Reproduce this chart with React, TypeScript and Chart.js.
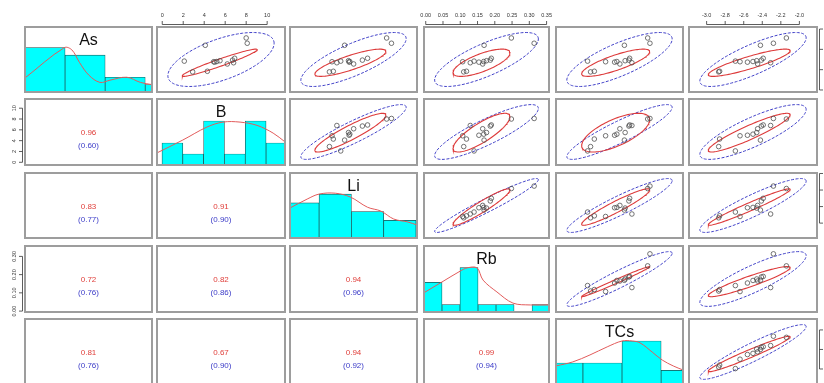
import React, { useEffect, useRef } from "react";
import { Chart, registerables } from "chart.js";

Chart.register(...registerables);

// ---------------- data ----------------
const varNames = ["As", "B", "Li", "Rb", "TCs", "V6"];

// 14 samples, one value per variable
const asVals = [25.6, 23.0, 22.0, 15.6, 14.7, 14.4, 13.7, 13.4, 13.9, 14.2, 12.8, 9.2, 8.9, 14.0];
const bVals = [8.0, 8.1, 4.1, 6.9, 6.7, 5.5, 5.0, 6.8, 4.9, 2.1, 6.2, 4.3, 2.9, 5.2];
const liVals = [30.9, 32.4, 17.9, 25.0, 23.4, 19.1, 19.3, 15.5, 14.0, 16.7, 20.7, 14.4, 13.2, 19.5];
const rbVals = [0.248, 0.314, 0.169, 0.19, 0.187, 0.176, 0.154, 0.129, 0.107, 0.14, 0.165, 0.118, 0.11, 0.168];
const tcsVals = [1.31, 1.34, 1.0, 1.07, 1.06, 1.01, 0.87, 1.1, 0.75, 0.51, 0.94, 0.6, 0.55, 0.9];
const v6Vals = [-2.14, -2.28, -2.42, -2.39, -2.41, -2.46, -2.56, -2.31, -2.64, -2.69, -2.45, -2.86, -2.87, -2.5];
const allVars = [asVals, bVals, liVals, rbVals, tcsVals, v6Vals];

// axis limits per variable
const axisMin = [-1, -0.5, 1, -0.005, 0.09, -3.19];
const axisMax = [31, 11.7, 40.3, 0.357, 1.78, -1.81];

// classical and robust location / scale
const classicalMean = [15, 5.6, 20.65, 0.176, 0.935, -2.5];
const classicalSd = [4.89, 1.864, 6.0, 0.0553, 0.258, 0.211];
const robustMean = [13.4, 5.48, 19.7, 0.1615, 0.884, -2.541];
const robustSd = [2.47, 1.316, 4.05, 0.0304, 0.1667, 0.1626];

// correlations (robust shown red, classical in parentheses blue)
const robustCorr = [
  [1, 0.96, 0.83, 0.72, 0.81, 0.88],
  [0.96, 1, 0.91, 0.82, 0.67, 0.92],
  [0.83, 0.91, 1, 0.94, 0.94, 0.97],
  [0.72, 0.82, 0.94, 1, 0.99, 0.93],
  [0.81, 0.67, 0.94, 0.99, 1, 0.97],
  [0.88, 0.92, 0.97, 0.93, 0.97, 1],
];
const classicalCorr = [
  [1, 0.6, 0.77, 0.76, 0.76, 0.8],
  [0.6, 1, 0.9, 0.86, 0.9, 0.82],
  [0.77, 0.9, 1, 0.96, 0.92, 0.9],
  [0.76, 0.86, 0.96, 1, 0.94, 0.85],
  [0.76, 0.9, 0.92, 0.94, 1, 0.93],
  [0.8, 0.82, 0.9, 0.85, 0.93, 1],
];

// tick labels
const topTicksB = [0, 2, 4, 6, 8, 10];
const topTicksRb = [0, 0.05, 0.1, 0.15, 0.2, 0.25, 0.3, 0.35];
const topTicksV6 = [-3.0, -2.8, -2.6, -2.4, -2.2, -2.0];
const leftTicksB = [0, 2, 4, 6, 8, 10];
const leftTicksRb = [0, 0.1, 0.2, 0.3];
const rightTicksAs = [0, 10, 20, 30];
const rightTicksLi = [10, 20, 30, 40];
const rightTicksTCs = [0.5, 1.0, 1.5];

// histograms (x in bin units, y in counts)
const histAs = [6, 5, 2, 1];
const histB = [2, 1, 4, 1, 4, 2];
const histLi = [4, 5, 3, 2];
const histRb = [4, 1, 6, 1, 1, 0, 1];
const histTCs = [3, 3, 6, 2];
const histCounts = [histAs, histB, histLi, histRb, histTCs];
const histXMin = [0, -0.24, 0.1, 0, 0.31];
const histXMax = [3.17, 5.91, 4.03, 6.94, 3.56];
const histYMax = [8.8, 6.0, 7.4, 8.9, 9.0];

const densAsX = [0, 0.98, 1.17, 1.36, 1.59, 1.87, 2.12, 2.54, 2.88, 3.17];
const densAsY = [1.9, 6.0, 5.7, 4.0, 2.3, 1.3, 1.6, 2.0, 1.3, 1.0];
const densBX = [-0.24, 1.0, 2.16, 2.93, 3.75, 4.57, 5.34, 5.91];
const densBY = [1.1, 2.27, 3.45, 3.9, 3.9, 3.6, 2.9, 2.1];
const densLiX = [0.09, 0.63, 1.0, 1.5, 1.97, 2.5, 2.91, 3.31, 3.75, 4.03];
const densLiY = [3.4, 4.43, 5.0, 5.1, 4.66, 3.5, 3.07, 2.16, 1.82, 1.48];
const densRbX = [0, 1.0, 2.0, 2.4, 2.94, 3.28, 4.05, 4.94, 5.9, 6.94];
const densRbY = [2.6, 4.05, 5.5, 5.95, 5.95, 4.3, 2.7, 1.2, 0.95, 0.95];
const densTCsX = [0.31, 0.74, 1.18, 1.62, 2.0, 2.26, 2.46, 2.77, 3.03, 3.31, 3.56];
const densTCsY = [2.6, 3.15, 4.1, 5.2, 6.0, 6.0, 5.75, 4.5, 3.4, 2.6, 2.05];
const densX = [densAsX, densBX, densLiX, densRbX, densTCsX];
const densY = [densAsY, densBY, densLiY, densRbY, densTCsY];

// ---------------- layout ----------------
const colLeft = [25, 157, 290, 424, 556, 689];
const colWidth = [127, 128, 127, 125, 127, 128];
const rowTop = [27, 99, 173, 246, 319];
const rowHeight = [65, 66, 65, 66, 66];
const NROWS = 5;
const NCOLS = 6;
const E = 8;
const FONT = '"Liberation Sans", Arial, Helvetica, sans-serif';
const TICK_FONT = 5.5;
const K975 = Math.sqrt(7.3778);

type AxisDef = { values: number[]; dec: number; pad: number };
const TOP_AXES: Record<number, AxisDef> = {
  1: { values: topTicksB, dec: 0, pad: 8.7 },
  3: { values: topTicksRb, dec: 2, pad: 8.7 },
  5: { values: topTicksV6, dec: 1, pad: 8.7 },
};
const LEFT_AXES: Record<number, AxisDef> = {
  1: { values: leftTicksB, dec: 0, pad: 7.9 },
  3: { values: leftTicksRb, dec: 2, pad: 5.6 },
};
const RIGHT_AXES: Record<number, AxisDef> = {
  0: { values: rightTicksAs, dec: 0, pad: 6 },
  2: { values: rightTicksLi, dec: 0, pad: 6 },
  4: { values: rightTicksTCs, dec: 1, pad: 5.2 },
};

function ellipsePoints(i: number, j: number, mean: number[], sd: number[], corr: number[][]) {
  const r = corr[i][j];
  const pts: { x: number; y: number }[] = [];
  const n = 120;
  for (let s = 0; s <= n; s++) {
    const t = (2 * Math.PI * s) / n;
    pts.push({
      x: mean[j] + K975 * sd[j] * Math.cos(t),
      y: mean[i] + K975 * sd[i] * (r * Math.cos(t) + Math.sqrt(1 - r * r) * Math.sin(t)),
    });
  }
  return pts;
}

function makeScale(kind: "x" | "y", min: number, max: number, ax: AxisDef | undefined, position: string, size: number) {
  const scale: any = {
    type: "linear",
    min,
    max,
    offset: false,
    position,
    display: !!ax,
    grid: { display: false, drawTicks: false, tickLength: 0 },
    border: { display: false },
    afterFit: (s: any) => {
      if (ax) {
        if (kind === "x") s.height = size;
        else s.width = size;
      }
      s.paddingLeft = 0;
      s.paddingRight = 0;
      s.paddingTop = 0;
      s.paddingBottom = 0;
    },
  };
  if (ax) {
    scale.ticks = {
      autoSkip: false,
      color: "#333",
      font: { family: FONT, size: TICK_FONT },
      padding: ax.pad,
      minRotation: kind === "y" ? 90 : 0,
      maxRotation: kind === "y" ? 90 : 0,
      crossAlign: kind === "y" ? "center" : "near",
      callback: (v: any) => Number(v).toFixed(ax.dec),
    };
    scale.afterBuildTicks = (s: any) => {
      s.ticks = ax.values.map((v) => ({ value: v }));
    };
  } else {
    scale.ticks = { display: false };
  }
  return scale;
}

const rAxisPlugin = {
  id: "rAxis",
  afterDraw(chart: any) {
    const ctx = chart.ctx;
    const a = chart.chartArea;
    ctx.save();
    ctx.strokeStyle = "#333";
    ctx.lineWidth = 0.8;
    Object.values(chart.scales).forEach((s: any) => {
      if (!s.options.display || !s.ticks || !s.ticks.length) return;
      const pix = s.ticks.map((t: any) => s.getPixelForValue(t.value));
      const first = pix[0];
      const last = pix[pix.length - 1];
      ctx.beginPath();
      if (s.position === "top") {
        const y = a.top - 2.5;
        ctx.moveTo(first, y);
        ctx.lineTo(last, y);
        pix.forEach((p: number) => {
          ctx.moveTo(p, y);
          ctx.lineTo(p, y - 3.5);
        });
      } else if (s.position === "left") {
        const x = a.left - 2.5;
        ctx.moveTo(x, first);
        ctx.lineTo(x, last);
        pix.forEach((p: number) => {
          ctx.moveTo(x, p);
          ctx.lineTo(x - 3.5, p);
        });
      } else if (s.position === "right") {
        const x = a.right + 2.5;
        ctx.moveTo(x, first);
        ctx.lineTo(x, last);
        pix.forEach((p: number) => {
          ctx.moveTo(x, p);
          ctx.lineTo(x + 3.5, p);
        });
      }
      ctx.stroke();
    });
    ctx.restore();
  },
};

function buildConfig(r: number, c: number, top?: AxisDef, left?: AxisDef, right?: AxisDef, mt = 0, ml = 0, mr = 0): any {
  const base: any = {
    animation: false,
    responsive: false,
    maintainAspectRatio: false,
    events: [],
    layout: { padding: { left: E, right: E, top: E, bottom: E } },
    plugins: { legend: { display: false }, tooltip: { enabled: false }, title: { display: false } },
  };
  if (r === c) {
    return {
      type: "bar",
      data: {
        datasets: [
          {
            type: "line",
            data: densX[r].map((x, k) => ({ x, y: densY[r][k] })),
            borderColor: "#e25b5b",
            borderWidth: 1,
            pointRadius: 0,
            tension: 0.35,
            fill: false,
            clip: 0,
          },
          {
            type: "bar",
            data: histCounts[r].map((y, k) => ({ x: k + 0.5, y })),
            backgroundColor: "#00ffff",
            borderColor: "#1d4d4d",
            borderWidth: 0.7,
            borderSkipped: false,
            barPercentage: 1,
            categoryPercentage: 1,
            clip: 0,
          },
        ],
      },
      options: {
        ...base,
        scales: {
          x: makeScale("x", histXMin[r], histXMax[r], undefined, "bottom", 0),
          y: makeScale("y", 0, histYMax[r], undefined, "left", 0),
        },
      },
      plugins: [rAxisPlugin],
    };
  }
  const datasets: any[] = [];
  if (r < c) {
    const xs = allVars[c];
    const ys = allVars[r];
    datasets.push({
      data: xs.map((x, k) => ({ x, y: ys[k] })),
      pointRadius: 2.3,
      pointStyle: "circle",
      backgroundColor: "rgba(0,0,0,0)",
      borderColor: "#505050",
      borderWidth: 0.8,
      showLine: false,
      clip: 0,
    });
    datasets.push({
      data: ellipsePoints(r, c, robustMean, robustSd, robustCorr),
      showLine: true,
      borderColor: "#dd3b3b",
      borderWidth: 1.1,
      pointRadius: 0,
      fill: false,
      clip: 0,
    });
    datasets.push({
      data: ellipsePoints(r, c, classicalMean, classicalSd, classicalCorr),
      showLine: true,
      borderColor: "#4040c8",
      borderWidth: 1,
      borderDash: [3, 1.5],
      pointRadius: 0,
      fill: false,
      clip: 0,
    });
  }
  const yAx = left || right;
  return {
    type: "scatter",
    data: { datasets },
    options: {
      ...base,
      scales: {
        x: makeScale("x", axisMin[c], axisMax[c], top, "top", mt),
        y: makeScale("y", axisMin[r], axisMax[r], yAx, right ? "right" : "left", right ? mr : ml),
      },
    },
    plugins: [rAxisPlugin],
  };
}

function Panel({ r, c }: { r: number; c: number }) {
  const ref = useRef<HTMLCanvasElement>(null);
  const top = r === 0 ? TOP_AXES[c] : undefined;
  const left = c === 0 ? LEFT_AXES[r] : undefined;
  const right = c === NCOLS - 1 ? RIGHT_AXES[r] : undefined;
  const mt = top ? 20 : 0;
  const ml = left ? 20 : 0;
  const mr = right ? 12 : 0;
  const px = colLeft[c];
  const py = rowTop[r];
  const pw = colWidth[c];
  const ph = rowHeight[r];
  const cw = pw + ml + mr + 2 * E;
  const ch = ph + mt + 2 * E;
  useEffect(() => {
    if (!ref.current) return;
    const chart = new Chart(ref.current, buildConfig(r, c, top, left, right, mt, ml, mr));
    return () => chart.destroy();
  }, []);
  return (
    <canvas
      ref={ref}
      width={cw}
      height={ch}
      style={{ position: "absolute", left: px - ml - E, top: py - mt - E, width: cw, height: ch }}
    />
  );
}

export default function App() {
  const panels: any[] = [];
  const boxes: any[] = [];
  const texts: any[] = [];
  for (let r = 0; r < NROWS; r++) {
    for (let c = 0; c < NCOLS; c++) {
      panels.push(<Panel key={`p${r}-${c}`} r={r} c={c} />);
      boxes.push(
        <div
          key={`b${r}-${c}`}
          style={{
            position: "absolute",
            left: colLeft[c] - 1,
            top: rowTop[r] - 1,
            width: colWidth[c] + 2,
            height: rowHeight[r] + 2,
            border: "2px solid #9d9d9d",
            boxSizing: "border-box",
            pointerEvents: "none",
          }}
        />
      );
      if (r === c) {
        texts.push(
          <div
            key={`n${r}`}
            style={{
              position: "absolute",
              left: colLeft[c],
              top: rowTop[r] + 4,
              width: colWidth[c],
              textAlign: "center",
              fontFamily: FONT,
              fontSize: 16,
              lineHeight: "18px",
              color: "#111",
            }}
          >
            {varNames[r]}
          </div>
        );
      } else if (r > c) {
        texts.push(
          <div
            key={`t${r}-${c}`}
            style={{
              position: "absolute",
              left: colLeft[c],
              top: rowTop[r] + 27,
              width: colWidth[c],
              textAlign: "center",
              fontFamily: FONT,
              fontSize: 8,
              lineHeight: "13px",
            }}
          >
            <div style={{ color: "#e0403c" }}>{robustCorr[r][c].toFixed(2)}</div>
            <div style={{ color: "#3c3cc8" }}>({classicalCorr[r][c].toFixed(2)})</div>
          </div>
        );
      }
    }
  }
  return (
    <div
      style={{
        position: "absolute",
        left: 0,
        top: 0,
        width: 824,
        height: 383,
        overflow: "hidden",
        background: "#fff",
      }}
    >
      {panels}
      {boxes}
      {texts}
    </div>
  );
}
